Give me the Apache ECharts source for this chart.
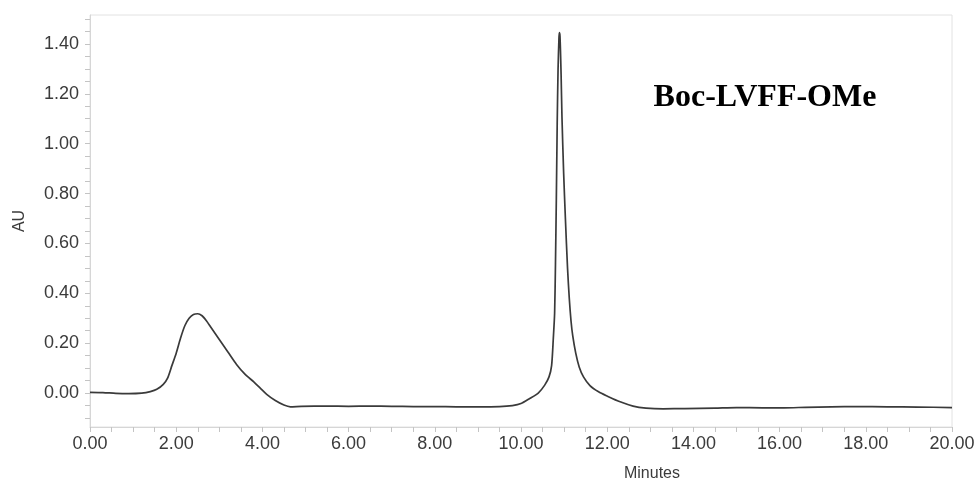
<!DOCTYPE html>
<html>
<head>
<meta charset="utf-8">
<title>Boc-LVFF-OMe chromatogram</title>
<script src="https://cdn.jsdelivr.net/npm/echarts@6/dist/echarts.min.js"></script>
<style>
  html, body { margin: 0; padding: 0; background: #fff; }
  #chart { width: 979px; height: 484px; }
</style>
</head>
<body>
<div id="chart"></div>
<script>
// Retention time (minutes) of each sampled point of the trace
const timeMin = [
  0.0, 0.3, 0.6, 0.9, 1.2, 1.4, 1.55, 1.7, 1.8, 1.9,
  2.0, 2.1, 2.2, 2.3, 2.4, 2.5, 2.6, 2.7, 2.8, 3.0,
  3.2, 3.4, 3.6, 3.8, 3.95, 4.1, 4.3, 4.5, 4.65, 4.9,
  5.5, 6.0, 6.5, 7.0, 7.5, 8.0, 8.5, 9.0, 9.5, 9.8,
  10.0, 10.2, 10.4, 10.55, 10.65, 10.71, 10.75, 10.78, 10.80, 10.82,
  10.84, 10.86, 10.88, 10.89, 10.905, 10.93, 10.95, 10.99, 11.03, 11.08,
  11.12, 11.16, 11.20, 11.27, 11.35, 11.45, 11.60, 11.80, 12.0, 12.3,
  12.6, 12.9, 13.3, 13.8, 14.5, 15.0, 15.6, 16.1, 16.6, 17.2,
  17.8, 18.5, 19.2, 20.0
];

// Absorbance (AU) at each of those times
const absorbance = [
  0.003, 0.002, -0.001, -0.002, 0.0, 0.006, 0.015, 0.035, 0.06, 0.11,
  0.16, 0.22, 0.27, 0.30, 0.315, 0.318, 0.31, 0.29, 0.265, 0.215,
  0.165, 0.115, 0.075, 0.045, 0.02, -0.005, -0.03, -0.048, -0.055, -0.053,
  -0.052, -0.053, -0.052, -0.053, -0.054, -0.054, -0.055, -0.055, -0.054, -0.05,
  -0.042, -0.022, 0.0, 0.032, 0.065, 0.11, 0.22, 0.32, 0.52, 0.78,
  1.08, 1.30, 1.42, 1.445, 1.43, 1.28, 1.11, 0.88, 0.70, 0.50,
  0.38, 0.29, 0.23, 0.16, 0.105, 0.065, 0.03, 0.005, -0.012, -0.035,
  -0.052, -0.06, -0.063, -0.062, -0.06, -0.058, -0.059, -0.059, -0.057, -0.055,
  -0.054, -0.055, -0.056, -0.058
];

// Labelled tick positions on each axis
const xLabelValues = [0, 2, 4, 6, 8, 10, 12, 14, 16, 18, 20];
const yLabelValues = [0, 0.2, 0.4, 0.6, 0.8, 1.0, 1.2, 1.4];

const sampleName = 'Boc-LVFF-OMe';

// Unlabelled tick marks every 0.5 min and every 0.05 AU
const xTickValues = [];
for (let i = 0; i <= 40; i++) xTickValues.push(i * 0.5);
const yTickValues = [];
for (let i = -2; i <= 30; i++) yTickValues.push(Math.round(i * 5) / 100);

const trace = timeMin.map((t, i) => [t, absorbance[i]]);

const labelFont = 'Liberation Sans, Arial, Helvetica, sans-serif';
const labelColor = '#3b3b3b';

const chart = echarts.init(document.getElementById('chart'), null, { renderer: 'canvas' });
chart.setOption({
  animation: false,
  backgroundColor: '#ffffff',
  grid: {
    left: 90, right: 27, top: 15, bottom: 57,
    outerBoundsMode: 'none',
    show: true, borderColor: '#e2e2e2', borderWidth: 1
  },
  xAxis: {
    type: 'value',
    min: 0, max: 20,
    name: 'Minutes',
    nameLocation: 'middle',
    nameGap: 39,
    nameTextStyle: {
      fontFamily: labelFont, fontSize: 16, color: labelColor,
      padding: [0, 0, 0, 262]
    },
    axisLine: { show: true, onZero: false, lineStyle: { color: '#d6d6d6', width: 1 } },
    axisTick: { show: true, length: 5, customValues: xTickValues, lineStyle: { color: '#c4c4c4' } },
    axisLabel: {
      customValues: xLabelValues,
      margin: 8,
      fontFamily: labelFont, fontSize: 18, color: labelColor,
      formatter: v => v.toFixed(2)
    },
    splitLine: { show: false }
  },
  yAxis: {
    type: 'value',
    min: -0.136, max: 1.516,
    name: 'AU',
    nameLocation: 'middle',
    nameGap: 62,
    nameTextStyle: { fontFamily: labelFont, fontSize: 16, color: labelColor },
    axisLine: { show: true, onZero: false, lineStyle: { color: '#d6d6d6', width: 1 } },
    axisTick: { show: true, length: 5, customValues: yTickValues, lineStyle: { color: '#c4c4c4' } },
    axisLabel: {
      customValues: yLabelValues,
      margin: 11,
      fontFamily: labelFont, fontSize: 18, color: labelColor,
      formatter: v => v.toFixed(2)
    },
    splitLine: { show: false }
  },
  graphic: [{
    type: 'text',
    x: 765, y: 98,
    style: {
      text: sampleName,
      textAlign: 'center',
      textVerticalAlign: 'middle',
      font: 'bold 32px "Liberation Serif", "Times New Roman", serif',
      fill: '#000'
    }
  }],
  series: [{
    type: 'line',
    data: trace,
    showSymbol: false,
    smooth: 0.25,
    lineStyle: { color: '#3a3a3a', width: 1.7 }
  }]
});
</script>
</body>
</html>
